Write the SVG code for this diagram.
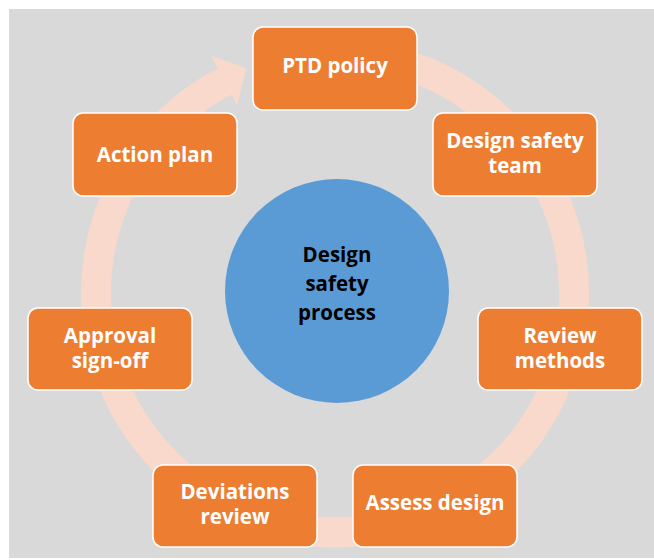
<svg xmlns="http://www.w3.org/2000/svg" width="654" height="560" viewBox="0 0 654 560">
  <style>
    .box { fill: #ed7d31; stroke: #ffffff; stroke-width: 1.5; }
    .lbl { font-family: "Open Sans", "Liberation Sans", sans-serif; font-weight: 700; font-size: 20.5px; fill: #ffffff; text-anchor: middle; }
    .ctr { font-family: "Open Sans", "Liberation Sans", sans-serif; font-weight: 700; font-size: 20.5px; fill: #000000; text-anchor: middle; }
    .ring { fill: none; stroke: #f9d9cc; stroke-width: 30; }
  </style>
  <rect x="0" y="0" width="654" height="560" fill="#ffffff"/>
  <rect x="9" y="9" width="645" height="549" fill="#d9d9d9"/>

  <g id="connectors">
    <path class="ring" d="M 376.5 58.1 A 239 239 0 1 1 226.5 80.5"/>
    <path fill="#f9d9cc" d="M 211.3 55.8 L 246.3 68.3 L 237.1 105.5 Z"/>
  </g>

  <g id="center">
    <circle cx="337" cy="291" r="112" fill="#5b9bd5"/>
    <text class="ctr" x="337" y="262">Design</text>
    <text class="ctr" x="337" y="291">safety</text>
    <text class="ctr" x="337" y="320">process</text>
  </g>

  <g id="ptd-policy">
    <rect class="box" x="253" y="27" width="164" height="83" rx="10"/>
    <text class="lbl" x="335" y="73">PTD policy</text>
  </g>
  <g id="design-safety-team">
    <rect class="box" x="433" y="113" width="164" height="83" rx="10"/>
    <text class="lbl" x="515" y="148">Design safety</text>
    <text class="lbl" x="515" y="172.5">team</text>
  </g>
  <g id="review-methods">
    <rect class="box" x="478" y="308" width="164" height="82" rx="10"/>
    <text class="lbl" x="560" y="343">Review</text>
    <text class="lbl" x="560" y="368">methods</text>
  </g>
  <g id="assess-design">
    <rect class="box" x="353" y="465" width="164" height="82" rx="10"/>
    <text class="lbl" x="435" y="510">Assess design</text>
  </g>
  <g id="deviations-review">
    <rect class="box" x="153" y="465" width="164" height="82" rx="10"/>
    <text class="lbl" x="235" y="499">Deviations</text>
    <text class="lbl" x="235" y="523.5">review</text>
  </g>
  <g id="approval-sign-off">
    <rect class="box" x="28" y="308" width="164" height="82" rx="10"/>
    <text class="lbl" x="110" y="343">Approval</text>
    <text class="lbl" x="110" y="367.5">sign-off</text>
  </g>
  <g id="action-plan">
    <rect class="box" x="73" y="113" width="164" height="83" rx="10"/>
    <text class="lbl" x="155" y="161.5">Action plan</text>
  </g>
</svg>
